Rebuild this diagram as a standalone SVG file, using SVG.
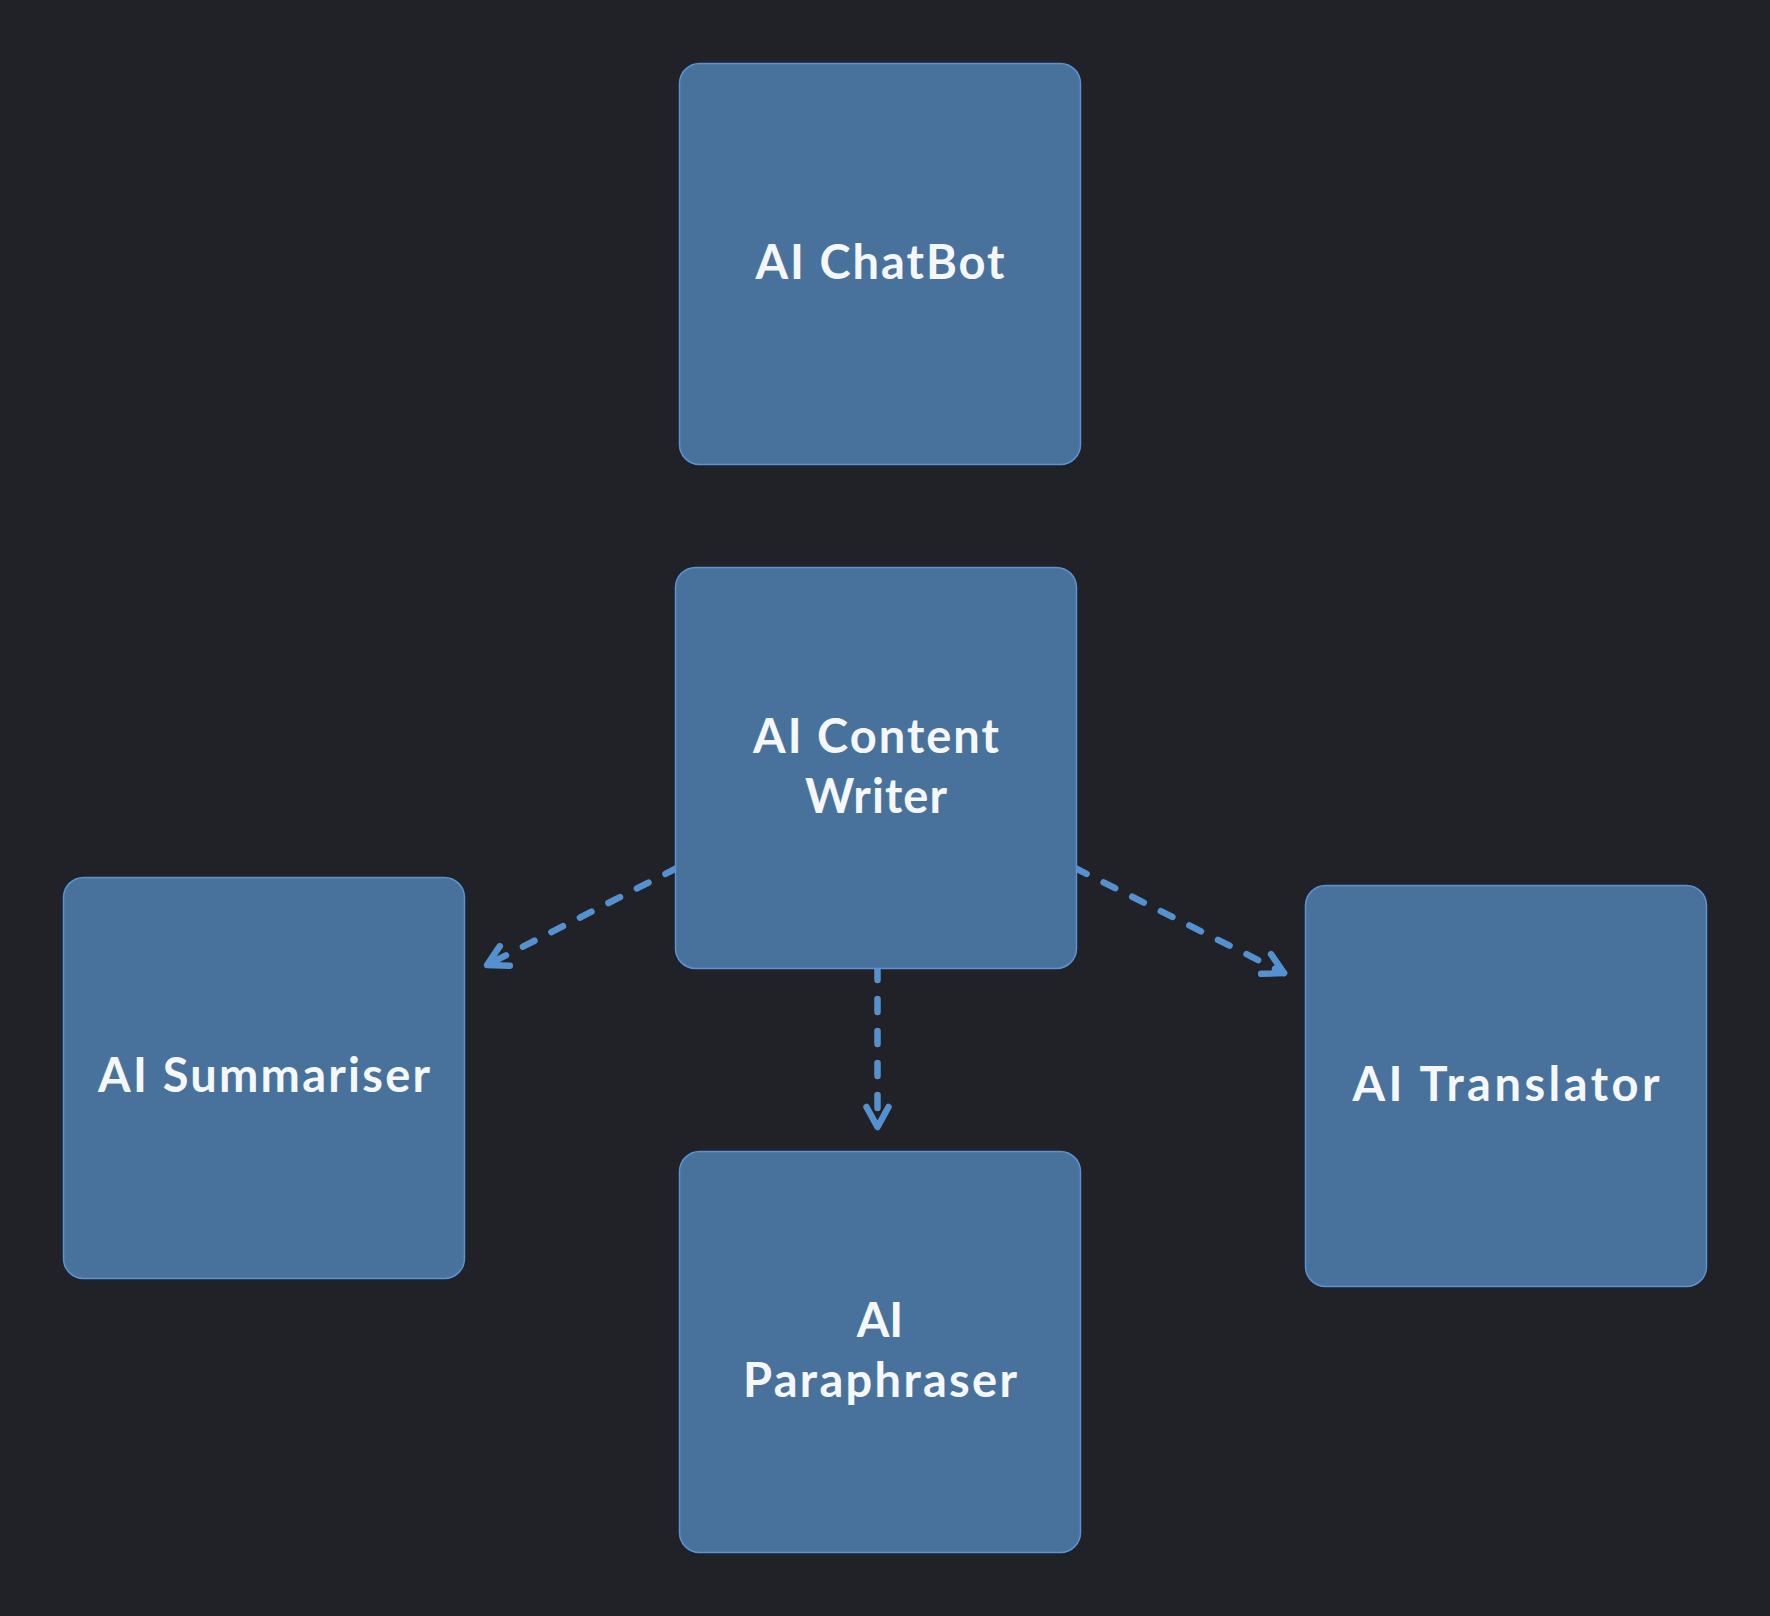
<svg xmlns="http://www.w3.org/2000/svg" width="1770" height="1616" viewBox="0 0 1770 1616">
<defs>
<style>
.node rect{fill:#48729c;stroke:#5a92d2;stroke-width:1.5}
.node text{fill:#f5f7fa;font-family:"Comic Sans MS","Lato","Noto Sans",sans-serif;font-weight:700;font-size:47px;text-anchor:middle}
.edge{fill:none;stroke:#5590cf;stroke-width:6.5;stroke-linecap:round;stroke-dasharray:13 19;marker-end:url(#arrow)}
</style>
<marker id="arrow" markerUnits="userSpaceOnUse" viewBox="-28 -16 34 32" refX="0" refY="0" markerWidth="34" markerHeight="32" orient="auto">
<path d="M -20 -11 L 0 0 L -20 11" fill="none" stroke="#5590cf" stroke-width="6.5" stroke-linecap="round" stroke-linejoin="round"/>
</marker>
</defs>
<rect width="1770" height="1616" fill="#202227"/>
<g id="connectors">
<path class="edge" d="M 677 868 L 487 965"/>
<path class="edge" d="M 1075 868 L 1284 973"/>
<path class="edge" d="M 877.5 967 L 877.5 1127"/>
</g>
<g id="chatbot" class="node">
<rect x="679.5" y="63.5" width="401" height="401" rx="20"/>
<text x="880" y="279" textLength="249" lengthAdjust="spacing">AI ChatBot</text>
</g>
<g id="content-writer" class="node">
<rect x="675.5" y="567.5" width="401" height="401" rx="20"/>
<text x="876" y="753" textLength="246" lengthAdjust="spacing">AI Content</text>
<text x="876" y="813" textLength="142" lengthAdjust="spacing">Writer</text>
</g>
<g id="summariser" class="node">
<rect x="63.5" y="877.5" width="401" height="401" rx="20"/>
<text x="264" y="1092" textLength="332" lengthAdjust="spacing">AI Summariser</text>
</g>
<g id="paraphraser" class="node">
<rect x="679.5" y="1151.5" width="401" height="401" rx="20"/>
<text x="880" y="1337">AI</text>
<text x="880" y="1397" textLength="274" lengthAdjust="spacing">Paraphraser</text>
</g>
<g id="translator" class="node">
<rect x="1305.5" y="885.5" width="401" height="401" rx="20"/>
<text x="1506" y="1101" textLength="307" lengthAdjust="spacing">AI Translator</text>
</g>
</svg>
